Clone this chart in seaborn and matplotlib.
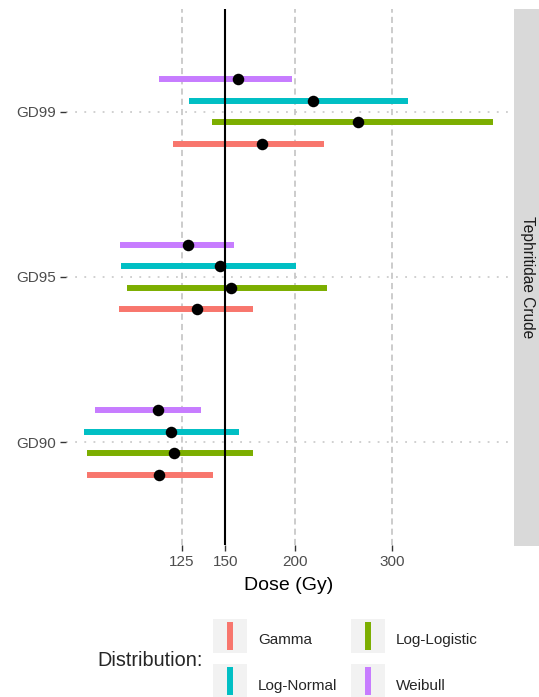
import numpy as np
import pandas as pd
import seaborn as sns
import matplotlib.pyplot as plt
from matplotlib.lines import Line2D
from matplotlib.ticker import NullLocator, NullFormatter

# levels top to bottom, distributions in legend order
gd_levels = ['GD99', 'GD95', 'GD90']
distributions = ['Gamma', 'Log-Logistic', 'Log-Normal', 'Weibull']
colors = ['#F8766D', '#7CAE00', '#00BFC4', '#C77CFF']

# estimate and interval limits, per distribution, in gd_levels order
dose_est = {
    'Gamma':        [174.6, 133.2, 114.0],
    'Log-Logistic': [260.0, 153.3, 120.9],
    'Log-Normal':   [216.0, 146.9, 119.5],
    'Weibull':      [158.1, 128.4, 113.1],
}
dose_lo = {
    'Gamma':        [120.6, 96.5, 84.2],
    'Log-Logistic': [141.9, 99.6, 84.2],
    'Log-Normal':   [128.9, 97.2, 83.4],
    'Weibull':      [113.9, 96.9, 87.1],
}
dose_hi = {
    'Gamma':        [225.7, 168.5, 142.3],
    'Log-Logistic': [456.6, 229.3, 168.5],
    'Log-Normal':   [320.8, 201.4, 158.6],
    'Weibull':      [198.2, 155.5, 135.4],
}
x_ticks = [125, 150, 200, 300]
ref_dose = 150
facet_label = 'Tephritidae Crude'

rows = []
for d in distributions:
    for i, lev in enumerate(gd_levels):
        for v in (dose_lo[d][i], dose_est[d][i], dose_hi[d][i]):
            rows.append({'level': lev, 'dist': d, 'dose': v})
df = pd.DataFrame(rows)

sns.set_style('white')
plt.rcParams['font.family'] = ['Liberation Sans', 'DejaVu Sans']

palette = dict(zip(distributions, colors))
# lowest bar in each group is Gamma, top is Weibull
draw_order = ['Weibull', 'Log-Normal', 'Log-Logistic', 'Gamma']

fig = plt.figure(figsize=(5.39, 6.97), dpi=100)
W, H = 539, 697
ax = fig.add_axes([66 / W, 1 - 545 / H, (511 - 66) / W, 536 / H])
ax.set_xscale('log')

# interval bars
sns.pointplot(data=df, x='dose', y='level', hue='dist', order=gd_levels,
              hue_order=draw_order, palette=palette, estimator='median',
              errorbar=('pi', 100), dodge=0.39, linestyle='none',
              markersize=0, markeredgewidth=0, capsize=0,
              err_kws={'linewidth': 4.3, 'solid_capstyle': 'butt'},
              legend=False, ax=ax)
ax.axvline(ref_dose, color='black', lw=1.5, zorder=3)
# point estimates
sns.pointplot(data=df, x='dose', y='level', hue='dist', order=gd_levels,
              hue_order=draw_order, palette={d: 'black' for d in distributions},
              estimator='median', errorbar=None, dodge=0.39, linestyle='none',
              markersize=8.3, markeredgewidth=0, zorder=4,
              legend=False, ax=ax)

ax.set_xlim(77.3, 492)
ax.set_ylim(2.62, -0.62)
ax.set_xticks(x_ticks)
ax.set_xticklabels([str(t) for t in x_ticks])
ax.xaxis.set_minor_locator(NullLocator())
ax.xaxis.set_minor_formatter(NullFormatter())
ax.set_axisbelow(True)
ax.grid(axis='x', which='major', color='#BEBEBE', linestyle=(0, (4, 2.7)), linewidth=1.1)
ax.grid(axis='y', color='#C4C4C4', linestyle=(0, (1.2, 4.8)), linewidth=1.1)
for s in ax.spines.values():
    s.set_visible(False)
ax.tick_params(axis='both', bottom=True, left=True, length=4, width=1,
               color='#333333', labelcolor='#4D4D4D', labelsize=11, pad=3)
ax.set_ylabel('')
ax.set_xlabel('Dose (Gy)', fontsize=14, color='black', labelpad=6)

# facet strip
strip = fig.add_axes([514 / W, 1 - 546 / H, 40 / W, 537 / H])
strip.set_facecolor('#D9D9D9')
strip.set_xticks([])
strip.set_yticks([])
for s in strip.spines.values():
    s.set_visible(False)
fig.text(527 / W, 1 - 277.5 / H, facet_label, rotation=-90, ha='center',
         va='center', fontsize=11.2, color='#1A1A1A')

# legend
handles = []
labels = []
for d in ['Gamma', 'Log-Normal', 'Log-Logistic', 'Weibull']:
    bg = Line2D([], [], marker='s', markersize=23.8, color='#F2F2F2',
                markeredgewidth=0, linestyle='none')
    bar = Line2D([], [], marker='|', markersize=20.2, markeredgewidth=4.3,
                 color=palette[d], linestyle='none')
    handles.append((bg, bar))
    labels.append(d)
fig.legend(handles, labels, loc='upper left', bbox_to_anchor=(213 / W, 1 - 627 / H),
           ncol=2, frameon=False, fontsize=11, handlelength=2.16, handleheight=2.16,
           handletextpad=0.78, columnspacing=0.9, labelspacing=1.31,
           borderpad=0, borderaxespad=0)
fig.text(97 / W, 1 - 660 / H, 'Distribution:', fontsize=14.3, va='center', ha='left')

fig.savefig('out.png', dpi=100)
